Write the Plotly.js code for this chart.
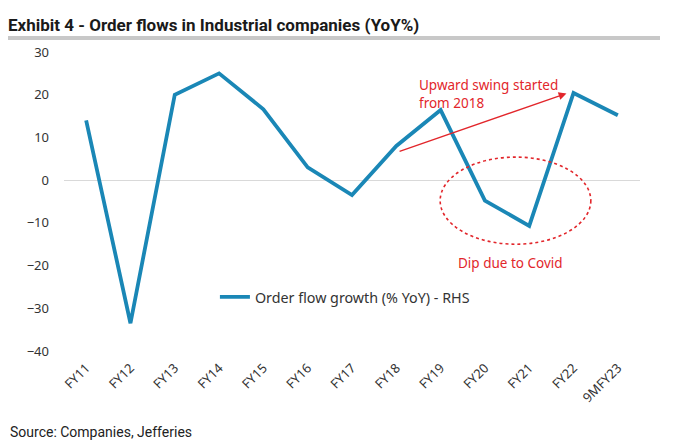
<!DOCTYPE html>
<html><head><meta charset="utf-8">
<script src="https://cdn.plot.ly/plotly-3.0.1.min.js"></script>
<style>body{margin:0;background:#fff}#c{width:681px;height:446px}</style>
</head><body><div id="c"></div>
<script>
const categories = ["FY11","FY12","FY13","FY14","FY15","FY16","FY17","FY18","FY19","FY20","FY21","FY22","9MFY23"];
const orderFlowGrowth = [14, -33.5, 20, 25, 16.6, 3, -3.5, 8, 16.4, -4.8, -10.7, 20.4, 15.2];
const yTicks = [-40, -30, -20, -10, 0, 10, 20, 30];
const seriesName = "Order flow growth (% YoY) - RHS";
const titleText = "Exhibit 4 - Order flows in Industrial companies (YoY%)";
const sourceText = "Source: Companies, Jefferies";
const note1 = "Upward swing started<br>from 2018";
const note2 = "Dip due to Covid";

const red = "#e2262b";
const tickFont = {family: "Noto Sans, sans-serif", size: 13, color: "#333"};

const trace = {
  x: categories, y: orderFlowGrowth, type: "scatter", mode: "lines",
  name: seriesName, line: {color: "#1a87b6", width: 3.8}
};

const layout = {
  width: 681, height: 446,
  margin: {l: 64, r: 41, t: 52, b: 95},
  paper_bgcolor: "#fff", plot_bgcolor: "#fff",
  showlegend: true,
  legend: {x: 0.262, y: 0.18, xanchor: "left", yanchor: "middle", bgcolor: "rgba(0,0,0,0)",
           font: {family: "Noto Sans, sans-serif", size: 14.3, color: "#333"}},
  title: {text: "<b>" + titleText + "</b>", xref: "container", x: 8/681, xanchor: "left",
          yref: "container", y: 1 - 25/446, yanchor: "middle",
          font: {family: "Liberation Sans Narrow, Roboto, sans-serif", size: 17, color: "#1a1a1a"}},
  xaxis: {type: "category", range: [-0.5, 12.5], tickangle: -45, showgrid: false, showline: false,
          zeroline: false, ticks: "", tickfont: tickFont, ticklabelstandoff: 6, fixedrange: true},
  yaxis: {range: [-40, 30], tickvals: yTicks, showgrid: false, showline: false,
          zeroline: true, zerolinecolor: "#d9d9d9", zerolinewidth: 1, ticks: "",
          tickfont: tickFont, ticklabelstandoff: 14, fixedrange: true},
  shapes: [
    {type: "line", xref: "paper", yref: "paper", x0: (8-64)/576, x1: (660-64)/576,
     y0: (351-38)/299, y1: (351-38)/299, line: {color: "#c8c8c8", width: 4}},
    {type: "circle", xref: "x", yref: "y", x0: 7.99, x1: 11.39, y0: -15.0, y1: 5.4,
     line: {color: red, width: 1.6, dash: "dot"}}
  ],
  annotations: [
    {xref: "x", yref: "y", axref: "x", ayref: "y", x: 10.84, y: 20.3, ax: 7.04, ay: 6.6,
     showarrow: true, arrowhead: 2, arrowsize: 1.2, arrowwidth: 1.3, arrowcolor: red, text: ""},
    {xref: "paper", yref: "paper", x: (417-64)/576, y: (351-94)/299, xanchor: "left", yanchor: "middle",
     align: "left", showarrow: false, text: note1,
     font: {family: "Noto Sans, sans-serif", size: 13.5, color: red}},
    {xref: "paper", yref: "paper", x: (510-64)/576, y: (351-263)/299, xanchor: "center", yanchor: "middle",
     showarrow: false, text: note2,
     font: {family: "Noto Sans, sans-serif", size: 13.5, color: red}},
    {xref: "paper", yref: "paper", x: (8-64)/576, y: (351-432)/299, xanchor: "left", yanchor: "middle",
     showarrow: false, text: sourceText,
     font: {family: "Roboto, sans-serif", size: 14, color: "#222"}}
  ]
};

Plotly.newPlot("c", [trace], layout, {displayModeBar: false, staticPlot: true});
</script>
</body></html>
